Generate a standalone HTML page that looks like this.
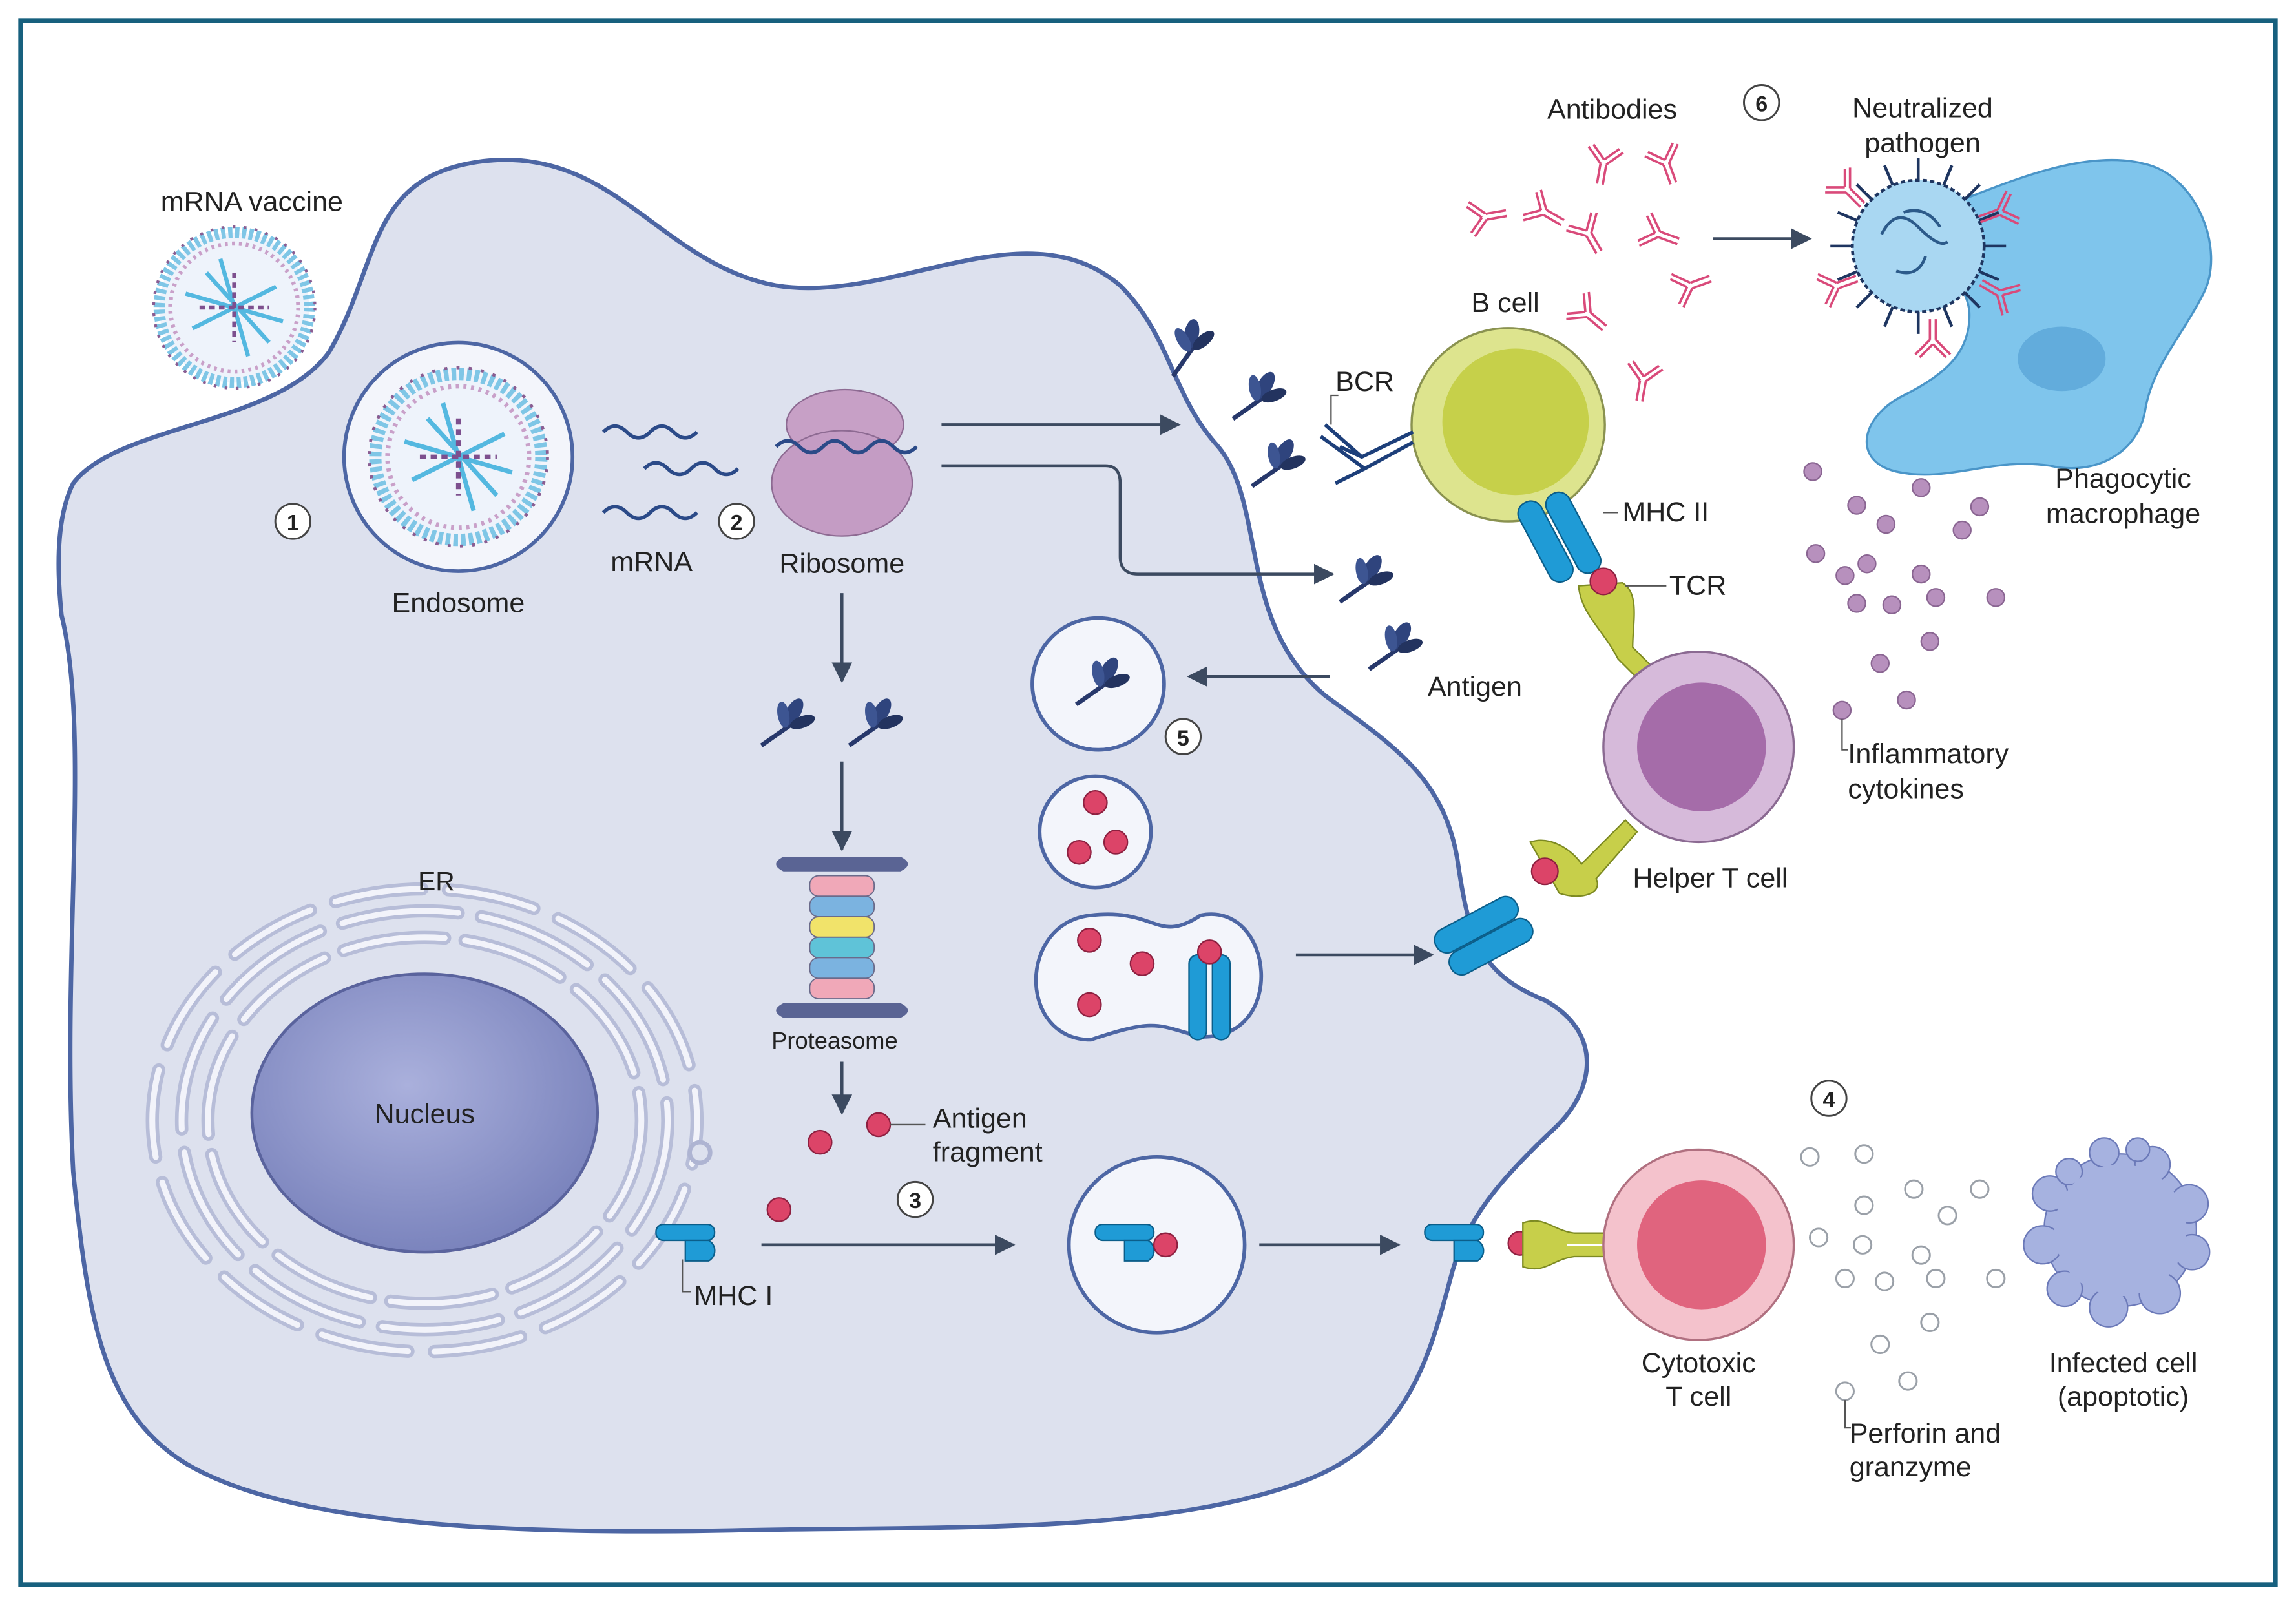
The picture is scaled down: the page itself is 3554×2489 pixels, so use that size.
<!DOCTYPE html>
<html><head><meta charset="utf-8"><style>
html,body{margin:0;padding:0;background:#fff}
svg{display:block}
text{font-family:"Liberation Sans",sans-serif;fill:#222}
</style></head><body>
<svg width="3554" height="2489" viewBox="0 0 1568 1098" preserveAspectRatio="none" xmlns="http://www.w3.org/2000/svg">
<defs>
<radialGradient id="nuc" cx="0.45" cy="0.4" r="0.6"><stop offset="0" stop-color="#aab0dc"/><stop offset="1" stop-color="#7b84bd"/></radialGradient>
<marker id="ah" viewBox="0 0 10 10" refX="9" refY="5" markerWidth="7" markerHeight="7" orient="auto"><path d="M0,0 L10,5 L0,10 z" fill="#3c4a60"/></marker>
<g id="ab" fill="none" stroke="#d94a7a" stroke-width="1.6">
<path d="M-2,0 L-2,14 M2,0 L2,14"/><path d="M-2,0 L-12,-10 M0,-3 L-9,-12"/><path d="M2,0 L12,-10 M0,-3 L9,-12"/>
</g>
<g id="ag">
<path d="M-20,14 L0,0" stroke="#27386b" stroke-width="3" fill="none"/>
<ellipse cx="2" cy="-9" rx="5" ry="10" fill="#2f447d" transform="rotate(30 2 -9)"/>
<ellipse cx="-5" cy="-7" rx="4" ry="9" fill="#3d5592" transform="rotate(-10 -5 -7)"/>
<ellipse cx="8" cy="-2" rx="4" ry="9" fill="#23335f" transform="rotate(70 8 -2)"/>
</g>
<g id="lnp">
<circle r="54" fill="#eef3fb" stroke="#7fc6e6" stroke-width="8" stroke-dasharray="3 2"/>
<circle r="46" fill="none" stroke="#c9a0c9" stroke-width="3" stroke-dasharray="2 3"/>
<circle r="58" fill="none" stroke="#8a5d92" stroke-width="2" stroke-dasharray="2 6"/>
<path d="M-35,-10 L35,10 M-30,15 L30,-15 M-10,-35 L10,35 M-20,-25 L25,25" stroke="#54b8e0" stroke-width="3"/>
<path d="M-25,0 L25,0 M0,-25 L0,25" stroke="#7d4f8e" stroke-width="3" stroke-dasharray="4 3"/>
</g>
<g id="mhc1">
<rect x="-22" y="-9" width="40" height="11" rx="5" fill="#1f9bd6" stroke="#0b5e8a" stroke-width="1"/>
<path d="M-2,2 h16 a8,8 0 0 1 0,14 h-16z" fill="#1f9bd6" stroke="#0b5e8a" stroke-width="1"/>
</g>
</defs>
<rect width="1568" height="1098" fill="#fff"/>
<rect x="14" y="14" width="1540" height="1068" fill="none" stroke="#17607e" stroke-width="3"/>

<!-- big cell -->
<path d="M50,330 C80,290 190,290 225,240 C260,180 250,120 330,110 C420,100 450,180 530,195 C610,208 700,140 765,195 C800,230 800,270 832,305 C865,345 845,425 905,475 C950,508 985,530 995,585 C1003,640 1010,665 1055,683 C1095,705 1090,745 1060,772 C1020,810 1000,835 990,875 C975,930 960,990 880,1015 C780,1048 640,1042 500,1045 C350,1048 200,1042 128,1000 C70,965 60,900 50,800 C42,650 62,500 42,420 C38,380 40,350 50,330 Z" fill="#dde1ee" stroke="#4d66a4" stroke-width="3"/>

<!-- ER -->
<g fill="none" stroke="#b7bdd8" stroke-width="9" stroke-linecap="round">
<ellipse cx="290" cy="765" rx="148" ry="125" stroke-dasharray="70 14"/>
<ellipse cx="290" cy="765" rx="166" ry="143" stroke-dasharray="80 16"/>
<ellipse cx="290" cy="765" rx="186" ry="158" stroke-dasharray="60 18" stroke-dashoffset="30"/>
</g>
<g fill="none" stroke="#f2f3fa" stroke-width="4" stroke-linecap="round">
<ellipse cx="290" cy="765" rx="148" ry="125" stroke-dasharray="70 14"/>
<ellipse cx="290" cy="765" rx="166" ry="143" stroke-dasharray="80 16"/>
<ellipse cx="290" cy="765" rx="186" ry="158" stroke-dasharray="60 18" stroke-dashoffset="30"/>
</g>
<circle cx="478" cy="787" r="7" fill="#dde1ee" stroke="#aeb4d2" stroke-width="3"/>
<ellipse cx="290" cy="760" rx="118" ry="95" fill="url(#nuc)" stroke="#5a639d" stroke-width="2"/>
<text x="290" y="767" font-size="19" text-anchor="middle">Nucleus</text>
<text x="298" y="608" font-size="18" text-anchor="middle">ER</text>

<!-- vaccine + endosome -->
<use href="#lnp" transform="translate(160,210) scale(0.95)"/>
<text x="172" y="144" font-size="19" text-anchor="middle">mRNA vaccine</text>
<circle cx="313" cy="312" r="78" fill="#f3f5fb" stroke="#4d66a4" stroke-width="2.5"/>
<use href="#lnp" transform="translate(313,312) scale(1.05)"/>
<text x="313" y="418" font-size="19" text-anchor="middle">Endosome</text>

<!-- mRNA -->
<g fill="none" stroke="#2b4a88" stroke-width="2.5">
<path d="M412,295 q8,-8 16,0 t16,0 t16,0 t16,0"/>
<path d="M440,320 q8,-8 16,0 t16,0 t16,0 t16,0"/>
<path d="M412,350 q8,-8 16,0 t16,0 t16,0 t16,0"/>
</g>
<text x="445" y="390" font-size="19" text-anchor="middle">mRNA</text>

<!-- ribosome -->
<ellipse cx="577" cy="290" rx="40" ry="24" fill="#c7a0c6" stroke="#8d6a92" stroke-width="1"/>
<ellipse cx="575" cy="330" rx="48" ry="36" fill="#c49cc4" stroke="#8d6a92" stroke-width="1"/>
<path d="M530,305 q8,-8 16,0 t16,0 t16,0 t16,0 t16,0 t16,0" fill="none" stroke="#2b4a88" stroke-width="2.5"/>
<text x="575" y="391" font-size="19" text-anchor="middle">Ribosome</text>

<!-- arrows -->
<g stroke="#3c4a60" stroke-width="2" fill="none" marker-end="url(#ah)">
<path d="M643,290 L805,290"/>
<path d="M643,318 L755,318 Q765,318 765,330 L765,380 Q765,392 777,392 L910,392"/>
<path d="M575,405 L575,465"/>
<path d="M575,520 L575,580"/>
<path d="M575,725 L575,760"/>
<path d="M908,462 L812,462"/>
<path d="M520,850 L692,850"/>
<path d="M860,850 L955,850"/>
<path d="M885,652 L978,652"/>
<path d="M1170,163 L1236,163"/>
</g>

<!-- antigens -->
<use href="#ag" transform="translate(540,495)"/>
<use href="#ag" transform="translate(600,495)"/>
<use href="#ag" transform="translate(815,237) rotate(-20)"/>
<use href="#ag" transform="translate(862,272)"/>
<use href="#ag" transform="translate(875,318)"/>
<use href="#ag" transform="translate(935,397)"/>
<use href="#ag" transform="translate(955,443)"/>
<text x="975" y="475" font-size="19">Antigen</text>

<!-- proteasome -->
<g transform="translate(575,640)">
<path d="M-40,45 q-10,5 0,10 h80 q10,-5 0,-10z" fill="#5a6494"/>
<path d="M-40,-45 q-10,-5 0,-10 h80 q10,5 0,10z" fill="#5a6494"/>
<g stroke="#6a6a8a" stroke-width="0.8">
<rect x="-22" y="-42" width="44" height="14" rx="6" fill="#f0a8b8"/>
<rect x="-22" y="-28" width="44" height="14" rx="6" fill="#7bb3e0"/>
<rect x="-22" y="-14" width="44" height="14" rx="6" fill="#f1e36a"/>
<rect x="-22" y="0" width="44" height="14" rx="6" fill="#5fc3d8"/>
<rect x="-22" y="14" width="44" height="14" rx="6" fill="#7bb3e0"/>
<rect x="-22" y="28" width="44" height="14" rx="6" fill="#f0a8b8"/>
</g>
</g>
<text x="570" y="716" font-size="16" text-anchor="middle">Proteasome</text>

<!-- fragments -->
<g fill="#dc4468" stroke="#8d2040" stroke-width="1">
<circle cx="560" cy="780" r="8"/><circle cx="600" cy="768" r="8"/><circle cx="532" cy="826" r="8"/>
</g>
<path d="M608,768 L632,768" stroke="#555" stroke-width="1"/>
<text x="637" y="770" font-size="19">Antigen</text>
<text x="637" y="793" font-size="19">fragment</text>

<!-- numbers -->
<g font-size="15" font-weight="bold" text-anchor="middle">
<circle cx="200" cy="356" r="12" fill="#fff" stroke="#444" stroke-width="1.3"/><text x="200" y="362">1</text>
<circle cx="503" cy="356" r="12" fill="#fff" stroke="#444" stroke-width="1.3"/><text x="503" y="362">2</text>
<circle cx="625" cy="819" r="12" fill="#fff" stroke="#444" stroke-width="1.3"/><text x="625" y="825">3</text>
<circle cx="1249" cy="750" r="12" fill="#fff" stroke="#444" stroke-width="1.3"/><text x="1249" y="756">4</text>
<circle cx="808" cy="503" r="12" fill="#fff" stroke="#444" stroke-width="1.3"/><text x="808" y="509">5</text>
<circle cx="1203" cy="70" r="12" fill="#fff" stroke="#444" stroke-width="1.3"/><text x="1203" y="76">6</text>
</g>

<!-- vesicles -->
<circle cx="750" cy="467" r="45" fill="#f3f5fb" stroke="#4d66a4" stroke-width="2.5"/>
<use href="#ag" transform="translate(755,467)"/>
<circle cx="748" cy="568" r="38" fill="#f3f5fb" stroke="#4d66a4" stroke-width="2.5"/>
<g fill="#dc4468" stroke="#8d2040" stroke-width="1">
<circle cx="748" cy="548" r="8"/><circle cx="737" cy="582" r="8"/><circle cx="762" cy="575" r="8"/>
</g>
<path d="M745,625 C790,620 790,645 820,625 C870,615 880,710 820,708 C790,700 790,695 745,710 C695,710 695,630 745,625 Z" fill="#f3f5fb" stroke="#4d66a4" stroke-width="2.5"/>
<g fill="#dc4468" stroke="#8d2040" stroke-width="1">
<circle cx="744" cy="642" r="8"/><circle cx="780" cy="658" r="8"/><circle cx="744" cy="686" r="8"/>
</g>
<g fill="#1f9bd6" stroke="#0b5e8a" stroke-width="1">
<rect x="812" y="652" width="12" height="58" rx="6"/><rect x="828" y="652" width="12" height="58" rx="6"/>
</g>
<circle cx="826" cy="650" r="8" fill="#dc4468" stroke="#8d2040"/>

<circle cx="790" cy="850" r="60" fill="#f3f5fb" stroke="#4d66a4" stroke-width="2.5"/>
<use href="#mhc1" transform="translate(770,845)"/>
<circle cx="796" cy="850" r="8" fill="#dc4468" stroke="#8d2040"/>
<use href="#mhc1" transform="translate(470,845)"/>
<path d="M466,860 L466,882 L472,882" stroke="#555" fill="none"/>
<text x="474" y="891" font-size="19">MHC I</text>

<!-- cytotoxic synapse -->
<use href="#mhc1" transform="translate(995,845)"/>
<circle cx="1038" cy="849" r="8" fill="#dc4468" stroke="#8d2040"/>
<path d="M1040,835 C1055,830 1060,840 1075,842 L1125,842 L1125,858 L1075,858 C1060,860 1055,870 1040,865 Z" fill="#c7cf4a" stroke="#7d8a22" stroke-width="1"/>
<path d="M1070,850 L1125,850" stroke="#fff" stroke-width="1.5"/>

<!-- B cell -->
<circle cx="1030" cy="290" r="66" fill="#dde48e" stroke="#8a9250" stroke-width="1.5"/>
<circle cx="1035" cy="288" r="50" fill="#c6d04a"/>
<text x="1028" y="213" font-size="19" text-anchor="middle">B cell</text>
<g stroke="#1d3f7a" stroke-width="2.5" fill="none">
<path d="M965,295 L930,312 L915,305 M965,302 L932,320 L912,330"/>
<path d="M930,312 L905,290 M932,320 L902,298"/>
</g>
<path d="M909,290 L909,270 L914,270" stroke="#555" fill="none"/>
<text x="912" y="267" font-size="19">BCR</text>

<!-- MHC II / TCR top -->
<g fill="#1f9bd6" stroke="#0b5e8a" stroke-width="1">
<rect x="1047" y="340" width="17" height="60" rx="8" transform="rotate(-28 1055 370)"/>
<rect x="1066" y="334" width="17" height="60" rx="8" transform="rotate(-28 1074 364)"/>
</g>
<path d="M1078,400 C1080,420 1095,430 1105,450 L1125,470 L1135,462 L1115,442 C1115,425 1120,405 1108,398 Z" fill="#c7cf4a" stroke="#7d8a22" stroke-width="1"/>
<circle cx="1095" cy="397" r="9" fill="#dc4468" stroke="#8d2040"/>
<path d="M1095,350 L1105,350" stroke="#555"/><text x="1108" y="356" font-size="19">MHC II</text>
<path d="M1110,400 L1138,400" stroke="#555"/><text x="1140" y="406" font-size="19">TCR</text>

<!-- helper T -->
<circle cx="1160" cy="510" r="65" fill="#d6bada" stroke="#8b6a92" stroke-width="1.5"/>
<circle cx="1162" cy="510" r="44" fill="#a56ca9"/>
<text x="1168" y="606" font-size="19" text-anchor="middle">Helper T cell</text>
<g fill="#1f9bd6" stroke="#0b5e8a" stroke-width="1">
<rect x="1000" y="600" width="17" height="62" rx="8" transform="rotate(62 1008 631)"/>
<rect x="1010" y="615" width="17" height="62" rx="8" transform="rotate(62 1018 646)"/>
</g>
<path d="M1045,575 C1060,570 1075,582 1080,590 L1110,560 L1118,568 L1090,600 C1095,610 1080,615 1065,610 Z" fill="#c7cf4a" stroke="#7d8a22" stroke-width="1"/>
<circle cx="1055" cy="595" r="9" fill="#dc4468" stroke="#8d2040"/>

<!-- cytotoxic T -->
<circle cx="1160" cy="850" r="65" fill="#f4c2cc" stroke="#b07080" stroke-width="1.5"/>
<circle cx="1162" cy="850" r="44" fill="#e0647e"/>
<text x="1160" y="937" font-size="19" text-anchor="middle">Cytotoxic</text>
<text x="1160" y="960" font-size="19" text-anchor="middle">T cell</text>

<!-- perforin -->
<g fill="#fff" stroke="#9aa0a8" stroke-width="1.3">
<circle cx="1236" cy="790" r="6"/><circle cx="1273" cy="788" r="6"/><circle cx="1307" cy="812" r="6"/><circle cx="1352" cy="812" r="6"/>
<circle cx="1273" cy="823" r="6"/><circle cx="1330" cy="830" r="6"/><circle cx="1242" cy="845" r="6"/><circle cx="1272" cy="850" r="6"/>
<circle cx="1312" cy="857" r="6"/><circle cx="1260" cy="873" r="6"/><circle cx="1287" cy="875" r="6"/><circle cx="1322" cy="873" r="6"/>
<circle cx="1363" cy="873" r="6"/><circle cx="1318" cy="903" r="6"/><circle cx="1284" cy="918" r="6"/><circle cx="1303" cy="943" r="6"/><circle cx="1260" cy="950" r="6"/>
</g>
<path d="M1260,956 L1260,975 L1264,975" stroke="#555" fill="none"/>
<text x="1263" y="985" font-size="19">Perforin and</text>
<text x="1263" y="1008" font-size="19">granzyme</text>

<!-- apoptotic cell -->
<g fill="#a6b2e0" stroke="#6b79b8" stroke-width="1">
<circle cx="1448" cy="840" r="52"/>
<circle cx="1400" cy="815" r="12"/><circle cx="1395" cy="850" r="13"/><circle cx="1410" cy="880" r="12"/><circle cx="1440" cy="893" r="13"/>
<circle cx="1475" cy="883" r="14"/><circle cx="1497" cy="855" r="12"/><circle cx="1495" cy="822" r="13"/><circle cx="1470" cy="795" r="12"/>
<circle cx="1437" cy="787" r="10"/><circle cx="1413" cy="800" r="9"/><circle cx="1460" cy="785" r="8"/>
</g>
<circle cx="1448" cy="840" r="45" fill="#a6b2e0"/>
<text x="1450" y="937" font-size="19" text-anchor="middle">Infected cell</text>
<text x="1450" y="960" font-size="19" text-anchor="middle">(apoptotic)</text>

<!-- macrophage -->
<path d="M1330,140 C1360,130 1420,100 1465,112 C1500,120 1520,170 1505,200 C1490,230 1470,250 1465,280 C1460,310 1430,325 1400,318 C1360,312 1330,330 1295,322 C1265,315 1270,285 1300,270 C1330,255 1345,240 1345,215 C1345,190 1310,170 1330,140 Z" fill="#7fc5ec" stroke="#4a95c8" stroke-width="1.5"/>
<ellipse cx="1408" cy="245" rx="30" ry="22" fill="#62acdc"/>
<text x="1450" y="333" font-size="19" text-anchor="middle">Phagocytic</text>
<text x="1450" y="357" font-size="19" text-anchor="middle">macrophage</text>

<!-- pathogen -->
<g stroke="#1e3560" stroke-width="2">
<line x1="1310" y1="108" x2="1310" y2="228"/><line x1="1250" y1="168" x2="1370" y2="168"/>
<line x1="1268" y1="126" x2="1352" y2="210"/><line x1="1352" y1="126" x2="1268" y2="210"/>
<line x1="1287" y1="113" x2="1333" y2="223"/><line x1="1333" y1="113" x2="1287" y2="223"/>
<line x1="1255" y1="145" x2="1365" y2="191"/><line x1="1255" y1="191" x2="1365" y2="145"/>
</g>
<circle cx="1310" cy="168" r="45" fill="#a9d7f2" stroke="#1e3560" stroke-width="2" stroke-dasharray="3 2"/>
<path d="M1285,160 q10,-20 25,-5 t20,10 M1295,185 q15,5 20,-10 M1300,145 q15,-5 25,10" stroke="#2c5a8a" fill="none" stroke-width="2"/>
<use href="#ab" transform="translate(1262,130) rotate(-45)"/>
<use href="#ab" transform="translate(1365,145) rotate(70)"/>
<use href="#ab" transform="translate(1255,195) rotate(-110)"/>
<use href="#ab" transform="translate(1320,232) rotate(180)"/>
<use href="#ab" transform="translate(1365,200) rotate(120)"/>
<text x="1313" y="80" font-size="19" text-anchor="middle">Neutralized</text>
<text x="1313" y="104" font-size="19" text-anchor="middle">pathogen</text>

<!-- antibodies -->
<use href="#ab" transform="translate(1015,148) rotate(-100)"/>
<use href="#ab" transform="translate(1055,145) rotate(-60)"/>
<use href="#ab" transform="translate(1095,112) rotate(10)"/>
<use href="#ab" transform="translate(1138,112) rotate(-20)"/>
<use href="#ab" transform="translate(1085,160) rotate(-30)"/>
<use href="#ab" transform="translate(1133,160) rotate(-70)"/>
<use href="#ab" transform="translate(1155,195) rotate(-110)"/>
<use href="#ab" transform="translate(1085,215) rotate(-50)"/>
<use href="#ab" transform="translate(1122,260) rotate(10)"/>
<text x="1101" y="81" font-size="19" text-anchor="middle">Antibodies</text>

<!-- cytokines -->
<g fill="#b790bd" stroke="#8a6592" stroke-width="1">
<circle cx="1238" cy="322" r="6"/><circle cx="1312" cy="333" r="6"/><circle cx="1268" cy="345" r="6"/><circle cx="1352" cy="346" r="6"/>
<circle cx="1288" cy="358" r="6"/><circle cx="1340" cy="362" r="6"/><circle cx="1240" cy="378" r="6"/><circle cx="1275" cy="385" r="6"/>
<circle cx="1260" cy="393" r="6"/><circle cx="1312" cy="392" r="6"/><circle cx="1268" cy="412" r="6"/><circle cx="1292" cy="413" r="6"/>
<circle cx="1322" cy="408" r="6"/><circle cx="1363" cy="408" r="6"/><circle cx="1318" cy="438" r="6"/><circle cx="1284" cy="453" r="6"/><circle cx="1302" cy="478" r="6"/><circle cx="1258" cy="485" r="6"/>
</g>
<path d="M1258,491 L1258,512 L1262,512" stroke="#555" fill="none"/>
<text x="1262" y="521" font-size="19">Inflammatory</text>
<text x="1262" y="545" font-size="19">cytokines</text>
</svg>
</body></html>
